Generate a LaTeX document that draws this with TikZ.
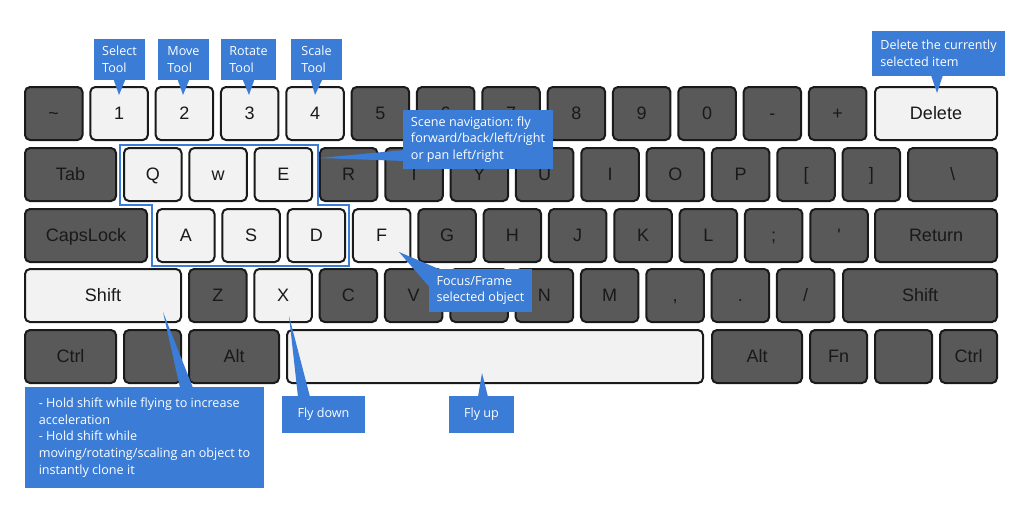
\documentclass[tikz,border=0pt]{standalone}
\usepackage{fontspec}
\setmainfont{Liberation Sans}[Ligatures=TeXOff]
\newfontfamily\calfont{Open Sans}
\definecolor{keydark}{HTML}{595959}
\definecolor{keylight}{HTML}{F2F2F2}
\definecolor{keyedge}{HTML}{1A1A1A}
\definecolor{callblue}{HTML}{3A7CD6}
\newcommand\KR[6]{\node[keybox,#6,minimum width=57.5] (#1) at ({#2+#3*65.33+29.75},{#4+27.5}) {#5};}
\newcommand\KW[6]{\node[keybox,#6,minimum width={#3-#2-2}] (#1) at ({(#2+#3)/2},{#4+27.5}) {#5};}
\begin{document}
\frenchspacing
\begin{tikzpicture}[x=1pt,y=-1pt,
  keybox/.style={draw=keyedge,line width=2pt,rounded corners=5pt,minimum height=53,inner sep=0pt,
    text height=12.9pt,text depth=0pt,
    font=\fontsize{18}{20}\selectfont,text=black!90},
  dk/.style={fill=keydark},
  lt/.style={fill=keylight},
  callout/.style={fill=callblue,text=white,inner sep=0pt,align=left,
    font=\calfont\fontsize{12.6}{16.7}\selectfont},
  wedge/.style={fill=callblue},
  outline/.style={draw=callblue,line width=1.5pt}]
\useasboundingbox (0,0) rectangle (1024,512);
\fill[white] (0,0) rectangle (1024,512);
% Row 1
\KR{ktil}{24}{0}{86}{\textasciitilde}{dk}
\KR{k1}{24}{1}{86}{1}{lt}
\KR{k2}{24}{2}{86}{2}{lt}
\KR{k3}{24}{3}{86}{3}{lt}
\KR{k4}{24}{4}{86}{4}{lt}
\KR{k5}{24}{5}{86}{5}{dk}
\KR{k6}{24}{6}{86}{6}{dk}
\KR{k7}{24}{7}{86}{7}{dk}
\KR{k8}{24}{8}{86}{8}{dk}
\KR{k9}{24}{9}{86}{9}{dk}
\KR{k0}{24}{10}{86}{0}{dk}
\KR{kmin}{24}{11}{86}{-}{dk}
\KR{kplus}{24}{12}{86}{+}{dk}
\KW{kdel}{874}{998}{86}{Delete}{lt}
% Row 2
\KW{ktab}{24}{117}{147}{Tab}{dk}
\KR{kq}{123}{0}{147}{Q}{lt}
\KR{kw}{123}{1}{147}{w}{lt}
\KR{ke}{123}{2}{147}{E}{lt}
\KR{kr}{123}{3}{147}{R}{dk}
\KR{kt}{123}{4}{147}{T}{dk}
\KR{ky}{123}{5}{147}{Y}{dk}
\KR{ku}{123}{6}{147}{U}{dk}
\KR{ki}{123}{7}{147}{I}{dk}
\KR{ko}{123}{8}{147}{O}{dk}
\KR{kp}{123}{9}{147}{P}{dk}
\KR{klb}{123}{10}{147}{[}{dk}
\KR{krb}{123}{11}{147}{]}{dk}
\KW{kbsl}{907}{998}{147}{\textbackslash}{dk}
% Row 3
\KW{kcaps}{24}{148}{208}{CapsLock}{dk}
\KR{ka}{156}{0}{208}{A}{lt}
\KR{ks}{156}{1}{208}{S}{lt}
\KR{kd}{156}{2}{208}{D}{lt}
\KR{kf}{156}{3}{208}{F}{lt}
\KR{kg}{156}{4}{208}{G}{dk}
\KR{kh}{156}{5}{208}{H}{dk}
\KR{kj}{156}{6}{208}{J}{dk}
\KR{kk}{156}{7}{208}{K}{dk}
\KR{kl}{156}{8}{208}{L}{dk}
\KR{ksemi}{156}{9}{208}{;}{dk}
\KR{kquote}{156}{10}{208}{'}{dk}
\KW{kret}{874}{998}{208}{Return}{dk}
% Row 4
\KW{kshl}{24}{182}{268}{Shift}{lt}
\KR{kz}{188}{0}{268}{Z}{dk}
\KR{kx}{188}{1}{268}{X}{lt}
\KR{kc}{188}{2}{268}{C}{dk}
\KR{kv}{188}{3}{268}{V}{dk}
\KR{kb}{188}{4}{268}{B}{dk}
\KR{kn}{188}{5}{268}{N}{dk}
\KR{km}{188}{6}{268}{M}{dk}
\KR{kcomma}{188}{7}{268}{,}{dk}
\KR{kdot}{188}{8}{268}{.}{dk}
\KR{kslash}{188}{9}{268}{/}{dk}
\KW{kshr}{842}{998}{268}{Shift}{dk}
% Row 5
\KW{kctl}{24}{117}{329}{Ctrl}{dk}
\KW{kwin}{123}{182}{329}{}{dk}
\KW{kalt}{188}{280}{329}{Alt}{dk}
\KW{kspace}{286}{704}{329}{}{lt}
\KW{kaltr}{711}{803}{329}{Alt}{dk}
\KW{kfn}{809}{868}{329}{Fn}{dk}
\KW{kmenu}{874}{933}{329}{}{dk}
\KW{kctr}{939}{998}{329}{Ctrl}{dk}
% WASD outline
\draw[outline] (120,145) -- (318,145) -- (318,205) -- (349,205) -- (349,266)
  -- (152,266) -- (152,205) -- (120,205) -- cycle;
% callouts
\node[callout,minimum width=51,minimum height=41] (csel) at (119.5,59.5) {Select\\Tool};
\node[callout,minimum width=51,minimum height=41] (cmove) at (183.5,59.5) {Move\\Tool};
\node[callout,minimum width=55,minimum height=41] (crot) at (248.5,59.5) {Rotate\\Tool};
\node[callout,minimum width=51,minimum height=41] (cscale) at (316.5,59.5) {Scale\\Tool};
\node[callout,minimum width=133,minimum height=45] (cdel) at (938.5,53.5) {Delete the currently\\selected item};
\coordinate (tsel) at (119,95);
\coordinate (tmove) at (183,95);
\coordinate (trot) at (249,95);
\coordinate (tscale) at (315,95);
\coordinate (tdel) at (937,93);
\coordinate (tnav) at (319,158);
\coordinate (tfoc) at (399,252);
\coordinate (tshift) at (163,312);
\coordinate (tdown) at (289,316);
\coordinate (tup) at (482,373);
\fill[wedge] ([xshift=-6pt,yshift=1pt]csel.south) -- ([xshift=6pt,yshift=1pt]csel.south) -- (tsel) -- cycle;
\fill[wedge] ([xshift=-6pt,yshift=1pt]cmove.south) -- ([xshift=6pt,yshift=1pt]cmove.south) -- (tmove) -- cycle;
\fill[wedge] ([xshift=-6pt,yshift=1pt]crot.south) -- ([xshift=6pt,yshift=1pt]crot.south) -- (trot) -- cycle;
\fill[wedge] ([xshift=-6pt,yshift=1pt]cscale.south) -- ([xshift=6pt,yshift=1pt]cscale.south) -- (tscale) -- cycle;
\fill[wedge] ([xshift=-7.5pt,yshift=1pt]cdel.south) -- ([xshift=4.5pt,yshift=1pt]cdel.south) -- (tdel) -- cycle;
\fill[wedge] (tfoc) -- (432,290) -- (446,272) -- cycle;
\node[callout,minimum width=150,minimum height=59] (cnav) at (478,139.5) {Scene navigation: fly\\forward/back/left/right\\or pan left/right};
\fill[wedge] ([xshift=2pt,yshift=-10.5pt]cnav.west) -- ([xshift=2pt,yshift=-21.5pt]cnav.west) -- (tnav) -- cycle;
\node[callout,minimum width=103,minimum height=43] (cfoc) at (480.5,290.5) {Focus/Frame\\selected object};
\node[callout,minimum width=239,minimum height=101] (cshift) at (144.5,437.5)
  {- Hold shift while flying to increase\\acceleration\\- Hold shift while\\moving/rotating/scaling an object to\\instantly clone it};
\node[callout,align=center,minimum width=83,minimum height=37] (cdown) at (323.5,414.5) {Fly down};
\node[callout,align=center,minimum width=65,minimum height=37] (cup) at (481.5,414.5) {Fly up};
\fill[wedge] ([xshift=35.5pt,yshift=-1pt]cshift.north) -- ([xshift=48.5pt,yshift=-1pt]cshift.north) -- (tshift) -- cycle;
\fill[wedge] ([xshift=-25.5pt,yshift=-1pt]cdown.north) -- ([xshift=-13.5pt,yshift=-1pt]cdown.north) -- (tdown) -- cycle;
\fill[wedge] ([xshift=-3.5pt,yshift=-1pt]cup.north) -- ([xshift=6.5pt,yshift=-1pt]cup.north) -- (tup) -- cycle;
\end{tikzpicture}
\end{document}
